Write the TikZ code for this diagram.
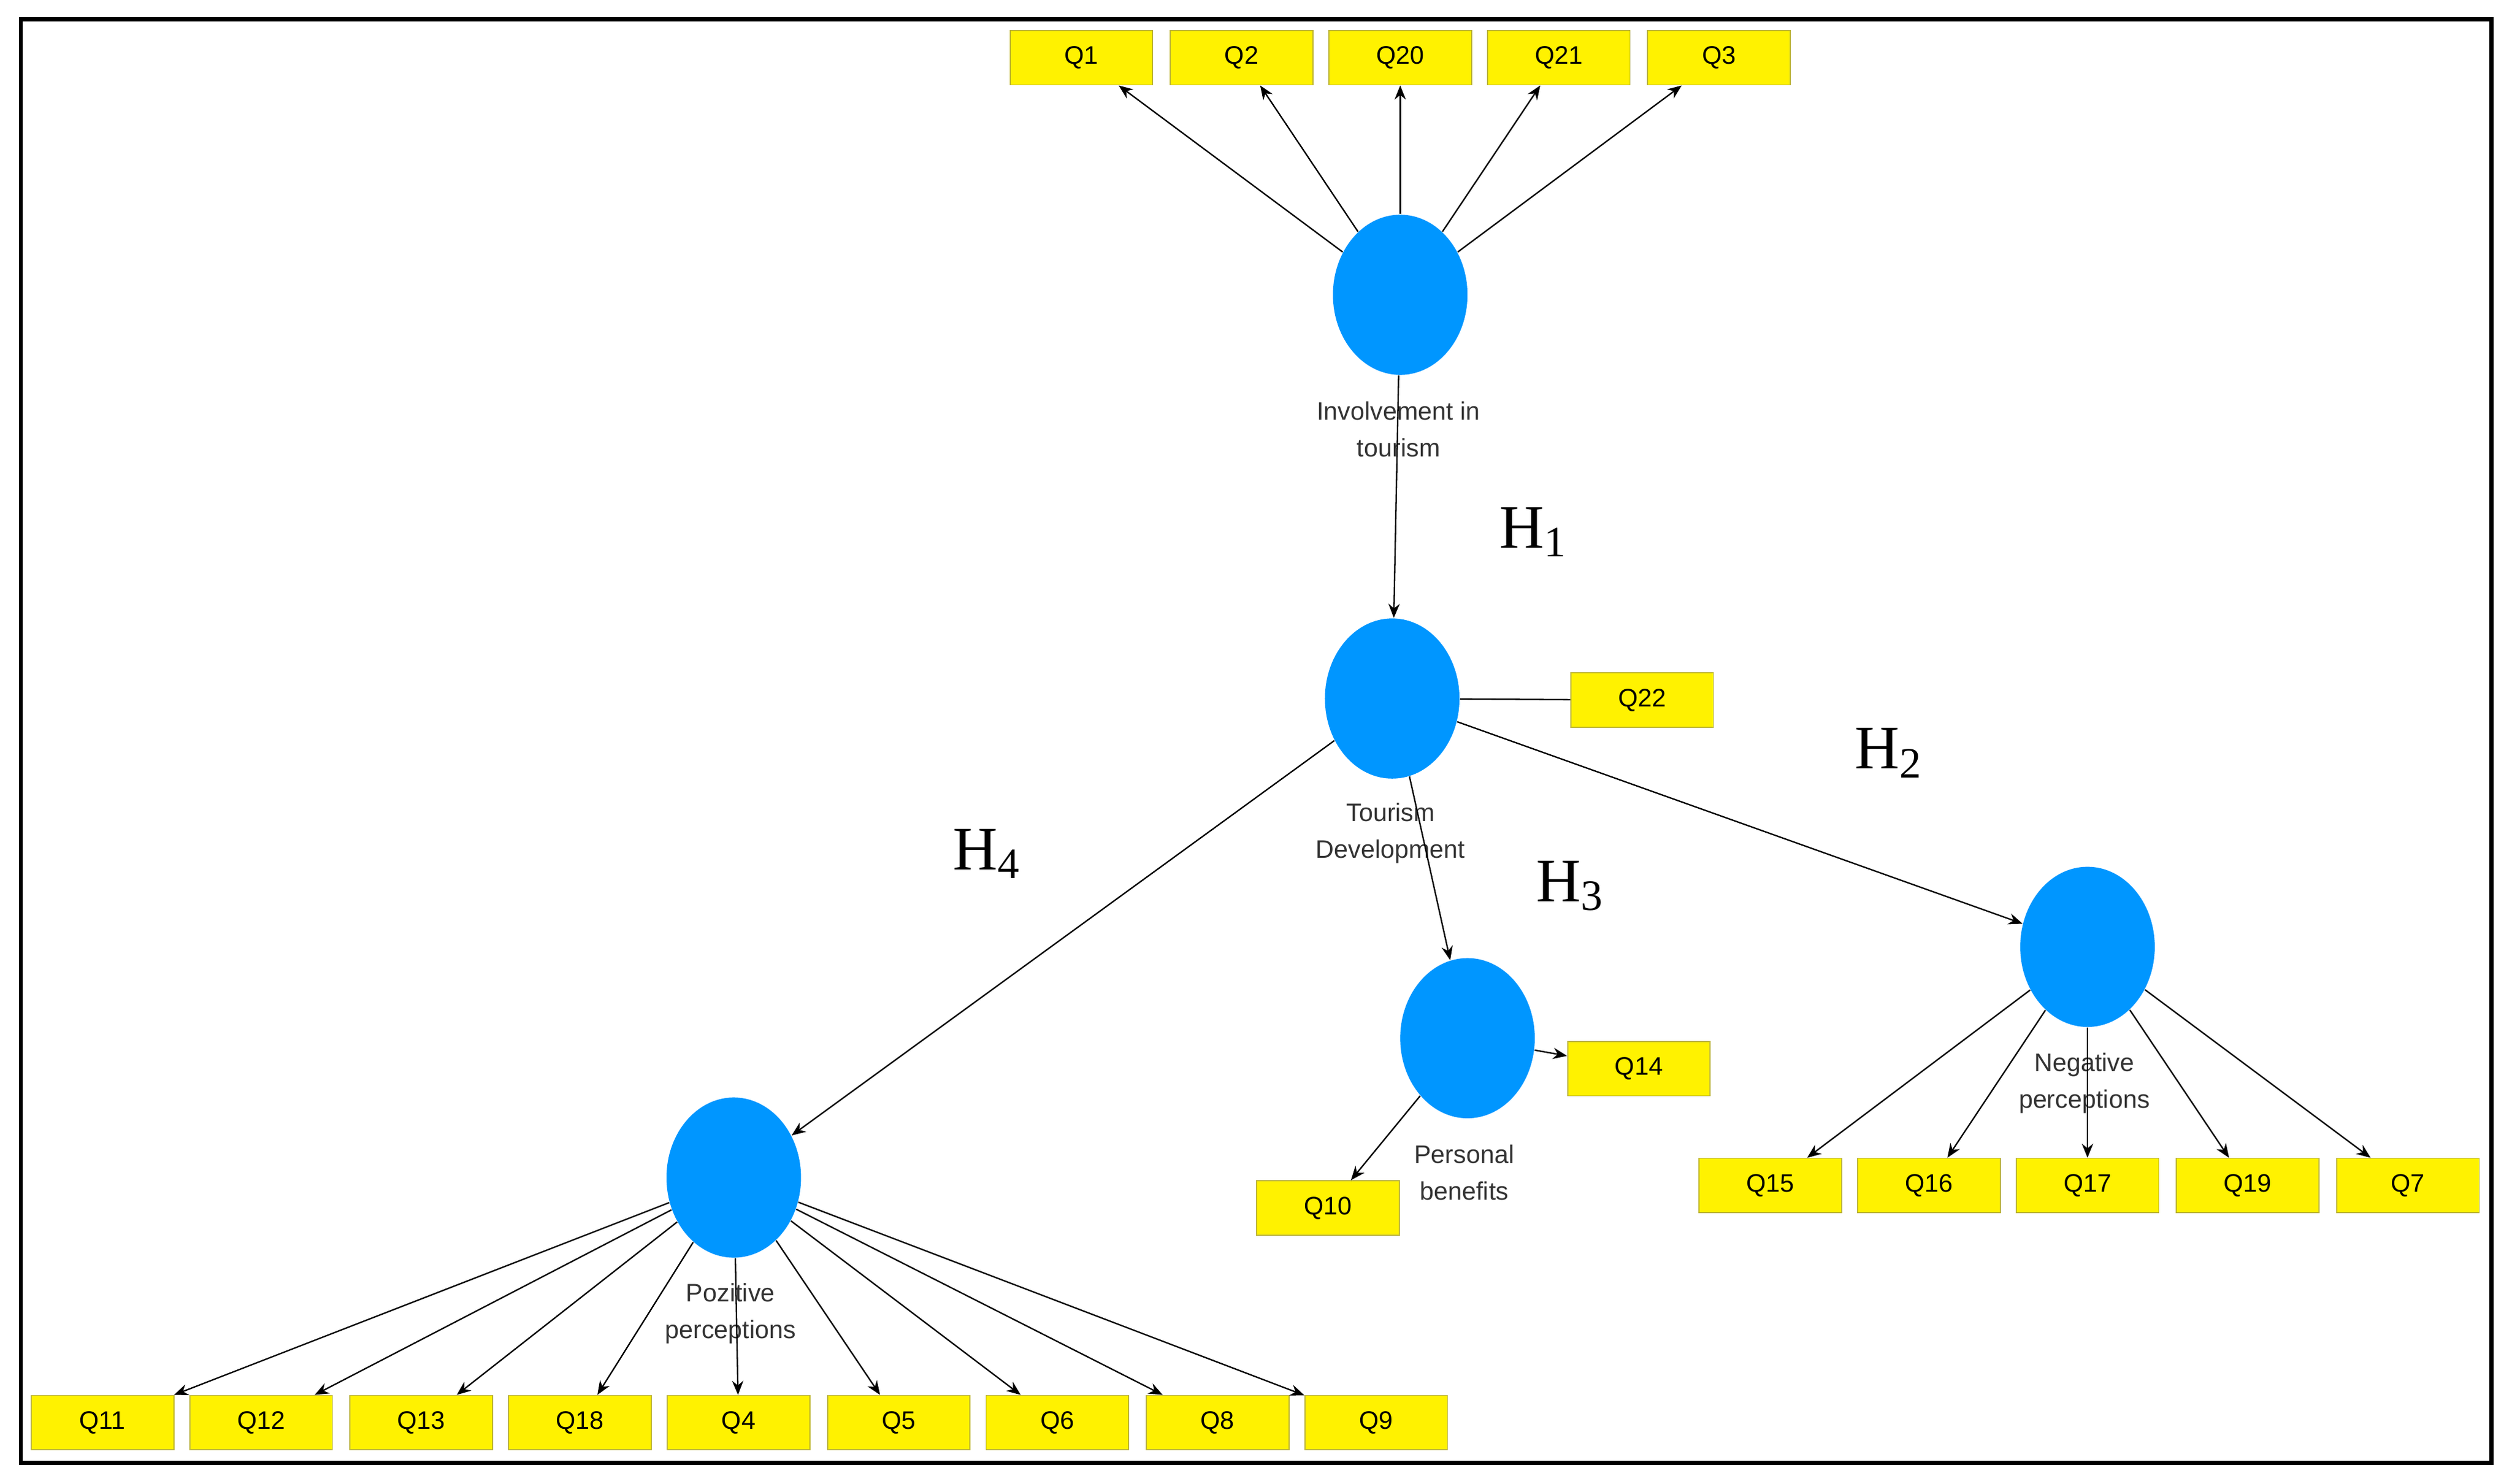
\documentclass[tikz,border=0pt]{standalone}
\usepackage{fontspec}
\setmainfont{Liberation Sans}
\newfontfamily\hfont{Liberation Serif}
\usetikzlibrary{shapes.geometric,arrows.meta}
\begin{document}
\begin{tikzpicture}[x=0.02cm,y=-0.02cm,
 box/.style={draw=yellow!70!black,fill=yellow,minimum width=1.78cm,minimum height=0.68cm,inner sep=0pt,font=\fontsize{9}{10}\selectfont},
 lv/.style={ellipse,fill={rgb,255:red,0;green,150;blue,255},minimum width=1.68cm,minimum height=2cm,inner sep=0pt},
 lab/.style={align=center,font=\fontsize{9}{13}\selectfont,text=black!80},
 hl/.style={font=\hfont\fontsize{22}{24}\selectfont},
 ar/.style={-{Stealth[length=5pt,width=4pt]},black,line width=0.5pt}]
\useasboundingbox (0,0) rectangle (1568,926);
\draw[line width=1.5pt] (13,12) rectangle (1555,913);
% latent variables
\node[lv] (inv) at (874,184) {};
\node[lv] (td) at (869,436) {};
\node[lv] (pb) at (916,648) {};
\node[lv] (np) at (1303,591) {};
\node[lv] (pp) at (458,735) {};
\node[lab] (linv) at (873,268) {Involvement in\\tourism};
\node[lab] (ltd) at (868,520) {Tourism\\Development};
\node[lab] (lpb) at (914,732) {Personal\\benefits};
\node[lab] (lnp) at (1301,676) {Negative\\perceptions};
\node[lab] (lpp) at (456,820) {Pozitive\\perceptions};
% boxes
\foreach \n/\x in {Q1/675,Q2/775,Q20/874,Q21/973,Q3/1073}
  {\node[box] (\n) at (\x,36) {\n}; \draw[ar] (inv) -- (\n);}
\node[box] (Q22) at (1025,437) {Q22};
\draw[line width=0.5pt] (td) -- (Q22);
\node[box] (Q14) at (1023,667) {Q14};
\node[box] (Q10) at (829,754) {Q10};
\draw[ar] (pb) -- (Q14);
\draw[ar] (pb) -- (Q10);
\foreach \n/\x in {Q15/1105,Q16/1204,Q17/1303,Q19/1403,Q7/1503}
  {\node[box] (\n) at (\x,740) {\n}; \draw[ar] (np) -- (\n);}
\foreach \n/\x in {Q11/64,Q12/163,Q13/263,Q18/362,Q4/461,Q5/561,Q6/660,Q8/760,Q9/859}
  {\node[box] (\n) at (\x,888) {\n}; \draw[ar] (pp) -- (\n);}
% structural paths
\draw[ar] (inv) -- (td);
\draw[ar] (td) -- (np);
\draw[ar] (td) -- (pb);
\draw[ar] (td) -- (pp);
\node[hl] (h1) at (957,332) {H\textsubscript{1}};
\node[hl] (h2) at (1179,470) {H\textsubscript{2}};
\node[hl] (h3) at (980,553) {H\textsubscript{3}};
\node[hl] (h4) at (616,533) {H\textsubscript{4}};
\end{tikzpicture}
\end{document}
